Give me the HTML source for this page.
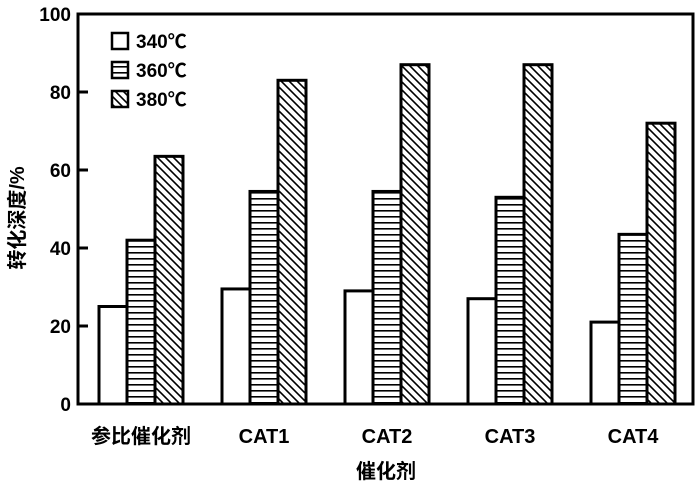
<!DOCTYPE html>
<html><head><meta charset="utf-8"><style>
body{margin:0;background:#fff}
svg text{font-family:"Liberation Sans","Noto Sans CJK SC",sans-serif;font-weight:bold;fill:#000}
</style></head><body>
<svg width="696" height="491" viewBox="0 0 696 491" xmlns="http://www.w3.org/2000/svg">
<defs>
<pattern id="hl" width="8" height="6" patternUnits="userSpaceOnUse"><rect width="8" height="6" fill="#fff"/><rect y="0" width="8" height="1.6" fill="#000"/></pattern>
<pattern id="dg" width="8" height="8" patternUnits="userSpaceOnUse"><rect width="8" height="8" fill="#fff"/><path d="M0,0 L8,8 M-2,6 L2,10 M6,-2 L10,2" stroke="#000" stroke-width="1.6"/></pattern>
</defs>
<g id="plot"></g>
<text x="0" y="0" font-size="20" text-anchor="middle" transform="translate(24 218) rotate(-90)">转化深度/%</text>
<text x="386" y="478" font-size="20" text-anchor="middle">催化剂</text>
</svg>
<script>
const categories=["参比催化剂","CAT1","CAT2","CAT3","CAT4"];
const series340=[25,29.5,29,27,21];
const series360=[42,54.5,54.5,53,43.5];
const series380=[63.5,83,87,87,72];
const seriesNames=["340℃","360℃","380℃"];
const yTicks=[0,20,40,60,80,100];
const NS="http://www.w3.org/2000/svg";
const g=document.getElementById('plot');
const X0=78,X1=693,Y0=404,Y1=14;
const y=v=>Y0-(v-0)/(100-0)*(Y0-Y1);
const gx=i=>99+i*123;
const BW=28;
const fills=["#fff","url(#hl)","url(#dg)"];
function mk(t,a){const e=document.createElementNS(NS,t);for(const k in a)e.setAttribute(k,a[k]);g.appendChild(e);return e;}
[series340,series360,series380].forEach((s,si)=>{
 s.forEach((v,i)=>{
  const r=mk('rect',{x:gx(i)+si*BW,y:y(v),width:BW,height:Y0-y(v),fill:fills[si],stroke:'#000','stroke-width':3});
  
  
 });
});
categories.forEach((c,i)=>{
 const t=mk('text',{x:gx(i)+42,y:443,'font-size':20,'text-anchor':'middle'});
 t.textContent=c;
 
 
});
yTicks.forEach(v=>{
 mk('line',{x1:X0,x2:X0+10,y1:y(v),y2:y(v),stroke:'#000','stroke-width':3});
 const t=mk('text',{x:X0-7,y:y(v)+7,'font-size':19,'text-anchor':'end'});
 t.textContent=v;
 
 
});
const fr=mk('rect',{x:X0,y:Y1,width:X1-X0,height:Y0-Y1,fill:'none',stroke:'#000','stroke-width':3});


seriesNames.forEach((n,i)=>{
 const ly=33+i*29;
 const b=mk('rect',{x:112,y:ly,width:16,height:16,fill:fills[i],stroke:'#000','stroke-width':2.5});
 
 
 const t=mk('text',{x:136,y:ly+15,'font-size':19});
 t.textContent=n;
 
 
});
</script>
</body></html>
